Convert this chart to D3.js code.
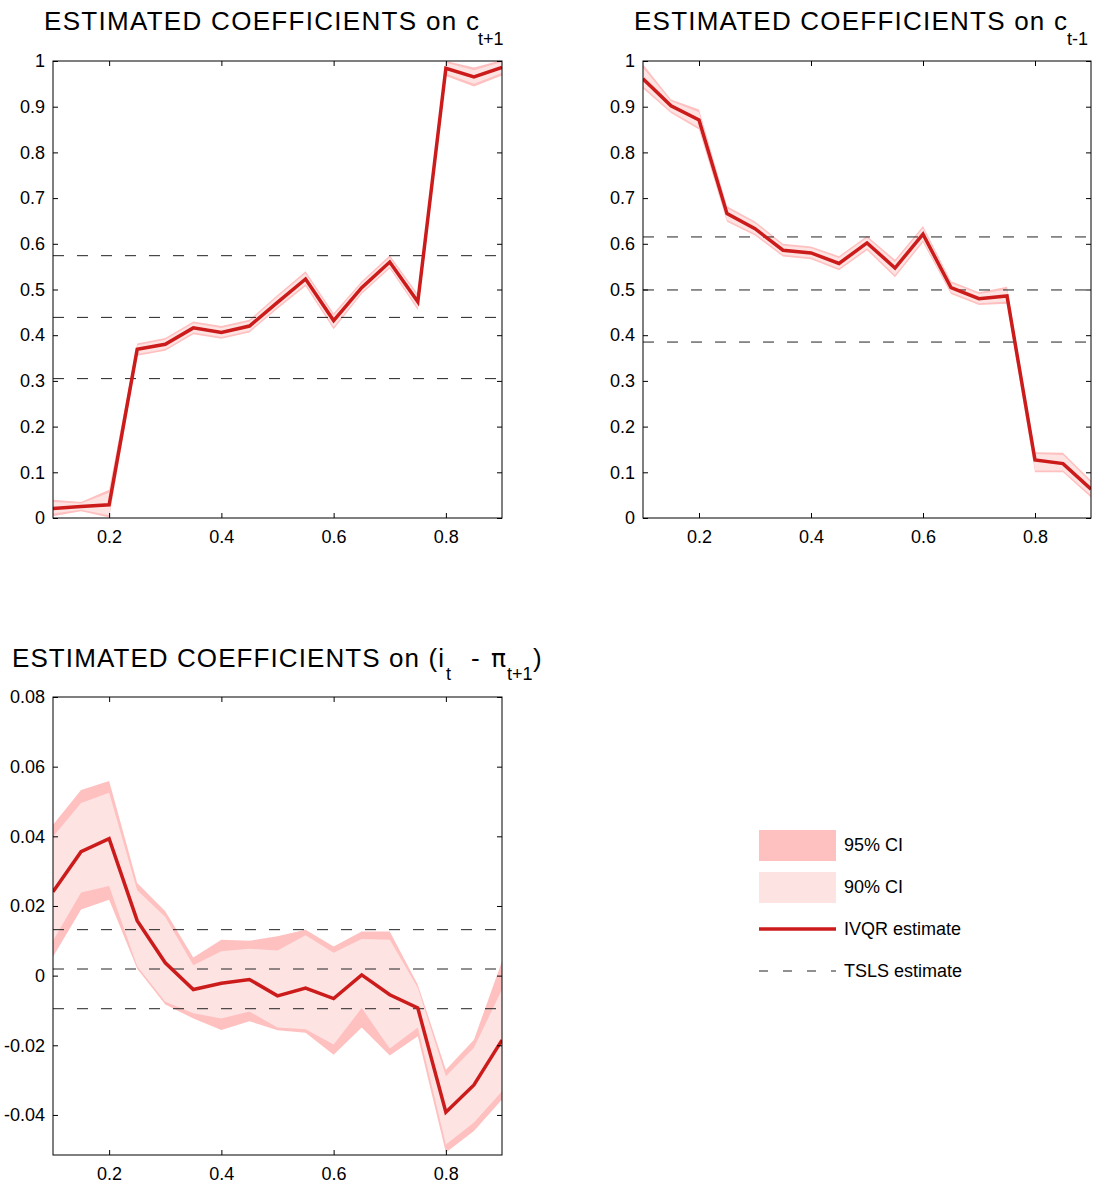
<!DOCTYPE html>
<html>
<head>
<meta charset="utf-8">
<script src="https://cdn.jsdelivr.net/npm/d3@7"></script>
<style>
  body { margin: 0; background: #fff; }
  svg text { font-family: "Liberation Sans", Arial, Helvetica, sans-serif; fill: #000; }
</style>
</head>
<body>
<svg id="chart" width="1094" height="1187"></svg>
<script>
// Quantile grid
const quantiles = [0.10, 0.15, 0.20, 0.25, 0.30, 0.35, 0.40, 0.45, 0.50, 0.55, 0.60, 0.65, 0.70, 0.75, 0.80, 0.85, 0.90];
const xTicks = [0.2, 0.4, 0.6, 0.8];

// Coefficient on c(t+1)
const fwdEst  = [0.021, 0.025, 0.029, 0.369, 0.380, 0.416, 0.406, 0.420, 0.472, 0.523, 0.432, 0.504, 0.560, 0.473, 0.984, 0.965, 0.986];
const fwdHi90 = [0.035, 0.032, 0.055, 0.378, 0.390, 0.426, 0.416, 0.430, 0.484, 0.535, 0.443, 0.514, 0.570, 0.485, 0.996, 0.980, 0.998];
const fwdLo90 = [0.010, 0.018, 0.006, 0.359, 0.370, 0.406, 0.396, 0.410, 0.462, 0.512, 0.418, 0.494, 0.550, 0.460, 0.972, 0.950, 0.974];
const fwdHi95 = [0.040, 0.035, 0.062, 0.382, 0.394, 0.430, 0.420, 0.434, 0.488, 0.540, 0.448, 0.518, 0.575, 0.490, 1.000, 0.986, 1.002];
const fwdLo95 = [0.004, 0.015, 0.001, 0.355, 0.366, 0.402, 0.392, 0.406, 0.458, 0.507, 0.413, 0.490, 0.546, 0.455, 0.967, 0.944, 0.968];
const fwdTsls = [0.305, 0.439, 0.574];
const fwdYTicks = [0, 0.1, 0.2, 0.3, 0.4, 0.5, 0.6, 0.7, 0.8, 0.9, 1];

// Coefficient on c(t-1)
const lagEst  = [0.961, 0.902, 0.871, 0.666, 0.633, 0.586, 0.580, 0.557, 0.602, 0.547, 0.621, 0.504, 0.480, 0.486, 0.127, 0.119, 0.063];
const lagHi90 = [0.985, 0.912, 0.888, 0.678, 0.645, 0.596, 0.590, 0.569, 0.613, 0.560, 0.634, 0.514, 0.490, 0.500, 0.140, 0.138, 0.077];
const lagLo90 = [0.945, 0.890, 0.855, 0.652, 0.622, 0.576, 0.570, 0.546, 0.590, 0.532, 0.608, 0.494, 0.470, 0.474, 0.104, 0.104, 0.050];
const lagHi95 = [0.993, 0.916, 0.894, 0.682, 0.649, 0.600, 0.594, 0.573, 0.617, 0.565, 0.639, 0.518, 0.494, 0.506, 0.144, 0.143, 0.082];
const lagLo95 = [0.940, 0.886, 0.850, 0.648, 0.618, 0.572, 0.566, 0.542, 0.586, 0.527, 0.603, 0.490, 0.466, 0.469, 0.100, 0.100, 0.045];
const lagTsls = [0.385, 0.499, 0.615];
const lagYTicks = [0, 0.1, 0.2, 0.3, 0.4, 0.5, 0.6, 0.7, 0.8, 0.9, 1];

// Coefficient on the real rate (i(t) - pi(t+1))
const rateEst  = [0.0241, 0.0356, 0.0393, 0.0158, 0.0037, -0.0040, -0.0022, -0.0011, -0.0058, -0.0036, -0.0066, 0.0002, -0.0055, -0.0093, -0.0392, -0.0314, -0.0185];
const rateHi95 = [0.0433, 0.0533, 0.0559, 0.0266, 0.0185, 0.0052, 0.0103, 0.0100, 0.0113, 0.0132, 0.0084, 0.0127, 0.0127, -0.0026, -0.0270, -0.0184, 0.0041];
const rateHi90 = [0.0399, 0.0496, 0.0525, 0.0245, 0.0168, 0.0030, 0.0070, 0.0077, 0.0072, 0.0116, 0.0066, 0.0105, 0.0103, -0.0035, -0.0289, -0.0207, -0.0040];
const rateLo90 = [0.0100, 0.0239, 0.0257, 0.0027, -0.0075, -0.0108, -0.0123, -0.0103, -0.0149, -0.0154, -0.0198, -0.0093, -0.0209, -0.0149, -0.0485, -0.0422, -0.0332];
const rateLo95 = [0.0054, 0.0190, 0.0218, 0.0020, -0.0083, -0.0123, -0.0156, -0.0131, -0.0157, -0.0164, -0.0227, -0.0149, -0.0229, -0.0174, -0.0508, -0.0446, -0.0356];
const rateTsls = [-0.0095, 0.0019, 0.0132];
const rateYTicks = [-0.04, -0.02, 0, 0.02, 0.04, 0.06, 0.08];

// Legend entries
const legendLabels = ["95% CI", "90% CI", "IVQR estimate", "TSLS estimate"];

const COL95 = "#ffc0c0";
const COL90 = "#fee3e3";
const COLEST = "#cc1b1b";
const FONT = "Liberation Sans, Arial, Helvetica, sans-serif";

const svg = d3.select("#chart");

const panels = [
  { id: "fwd", left: 53, right: 502, top: 61, bottom: 518, yDomain: [0, 1],
    est: fwdEst, hi90: fwdHi90, lo90: fwdLo90, hi95: fwdHi95, lo95: fwdLo95, tsls: fwdTsls, yTicks: fwdYTicks },
  { id: "lag", left: 643, right: 1091, top: 61, bottom: 518, yDomain: [0, 1],
    est: lagEst, hi90: lagHi90, lo90: lagLo90, hi95: lagHi95, lo95: lagLo95, tsls: lagTsls, yTicks: lagYTicks },
  { id: "rate", left: 53, right: 502, top: 697, bottom: 1155, yDomain: [-0.0515, 0.08],
    est: rateEst, hi90: rateHi90, lo90: rateLo90, hi95: rateHi95, lo95: rateLo95, tsls: rateTsls, yTicks: rateYTicks }
];

function styleAxis(sel) {
  sel.attr("font-size", 18).attr("font-family", FONT);
  sel.select(".domain").remove();
  sel.selectAll(".tick line").attr("stroke", "#000");
}

panels.forEach(p => {
  const x = d3.scaleLinear().domain([0.1, 0.9]).range([p.left, p.right]);
  const y = d3.scaleLinear().domain(p.yDomain).range([p.bottom, p.top]);
  const g = svg.append("g").attr("class", "panel-" + p.id);

  g.append("clipPath").attr("id", "clip-" + p.id)
    .append("rect").attr("x", p.left).attr("y", p.top)
    .attr("width", p.right - p.left).attr("height", p.bottom - p.top);

  const plot = g.append("g").attr("clip-path", `url(#clip-${p.id})`);

  const band = (lo, hi) => d3.area()
    .x((d, i) => x(quantiles[i]))
    .y0((d, i) => y(lo[i]))
    .y1((d, i) => y(hi[i]));

  plot.append("path").attr("d", band(p.lo95, p.hi95)(quantiles)).attr("fill", COL95);
  plot.append("path").attr("d", band(p.lo90, p.hi90)(quantiles)).attr("fill", COL90);

  plot.selectAll("line.tsls").data(p.tsls).join("line")
    .attr("class", "tsls")
    .attr("x1", x(0.1)).attr("x2", x(0.9))
    .attr("y1", d => y(d)).attr("y2", d => y(d))
    .attr("stroke", "#222").attr("stroke-width", 1)
    .attr("stroke-dasharray", "11,13");

  const line = d3.line().x((d, i) => x(quantiles[i])).y(d => y(d));
  plot.append("path").datum(p.est).attr("d", line)
    .attr("fill", "none").attr("stroke", COLEST).attr("stroke-width", 3.5)
    .attr("stroke-linejoin", "miter");

  // Ticks on all four sides, pointing inward
  const fmt = d => String(+d.toFixed(2));
  g.append("g").attr("transform", `translate(${p.left},0)`)
    .call(d3.axisLeft(y).tickValues(p.yTicks).tickFormat(fmt).tickSizeInner(-5).tickSizeOuter(0).tickPadding(8))
    .call(styleAxis);
  g.append("g").attr("transform", `translate(${p.right},0)`)
    .call(d3.axisRight(y).tickValues(p.yTicks).tickFormat("").tickSizeInner(-5).tickSizeOuter(0))
    .call(styleAxis);
  g.append("g").attr("transform", `translate(0,${p.bottom})`)
    .call(d3.axisBottom(x).tickValues(xTicks).tickFormat(fmt).tickSizeInner(-5).tickSizeOuter(0).tickPadding(12))
    .call(styleAxis);
  g.append("g").attr("transform", `translate(0,${p.top})`)
    .call(d3.axisTop(x).tickValues(xTicks).tickFormat("").tickSizeInner(-5).tickSizeOuter(0))
    .call(styleAxis);

  g.append("rect").attr("x", p.left).attr("y", p.top)
    .attr("width", p.right - p.left).attr("height", p.bottom - p.top)
    .attr("fill", "none").attr("stroke", "#000").attr("stroke-width", 1);
});

// Titles
function piece(x, y, txt, size, len) {
  const t = svg.append("text").attr("x", x).attr("y", y).attr("font-size", size).text(txt);
  if (len) t.attr("textLength", len).attr("lengthAdjust", "spacing");
  return t;
}
piece(44, 30, "ESTIMATED COEFFICIENTS on c", 26, 435);
piece(478, 44.5, "t+1", 18);
piece(634, 30, "ESTIMATED COEFFICIENTS on c", 26, 433);
piece(1067, 44.5, "t-1", 18);
piece(12, 667, "ESTIMATED COEFFICIENTS on (i", 26, 432);
piece(446, 679.5, "t", 18);
piece(471, 667, "-", 26);
piece(491, 667, "\u03c0", 25).style("font-family", "'DejaVu Sans', sans-serif");
piece(507, 679.5, "t+1", 18);
piece(533, 667, ")", 26);

// Legend
const lg = svg.append("g").attr("class", "legend");
const lgX = 759, lgW = 77, lgTextX = 844;
const lgY = [845, 887, 929, 971];
lg.append("rect").attr("x", lgX).attr("y", lgY[0] - 15).attr("width", lgW).attr("height", 31).attr("fill", COL95);
lg.append("rect").attr("x", lgX).attr("y", lgY[1] - 15).attr("width", lgW).attr("height", 31).attr("fill", COL90);
lg.append("line").attr("x1", lgX).attr("x2", lgX + lgW).attr("y1", lgY[2]).attr("y2", lgY[2])
  .attr("stroke", COLEST).attr("stroke-width", 3.5);
lg.append("line").attr("x1", lgX).attr("x2", lgX + lgW).attr("y1", lgY[3]).attr("y2", lgY[3])
  .attr("stroke", "#222").attr("stroke-width", 1).attr("stroke-dasharray", "9,15");
lg.selectAll("text").data(legendLabels).join("text")
  .attr("x", lgTextX).attr("y", (d, i) => lgY[i]).attr("dy", "0.35em")
  .attr("font-size", 18).text(d => d);
</script>
</body>
</html>
